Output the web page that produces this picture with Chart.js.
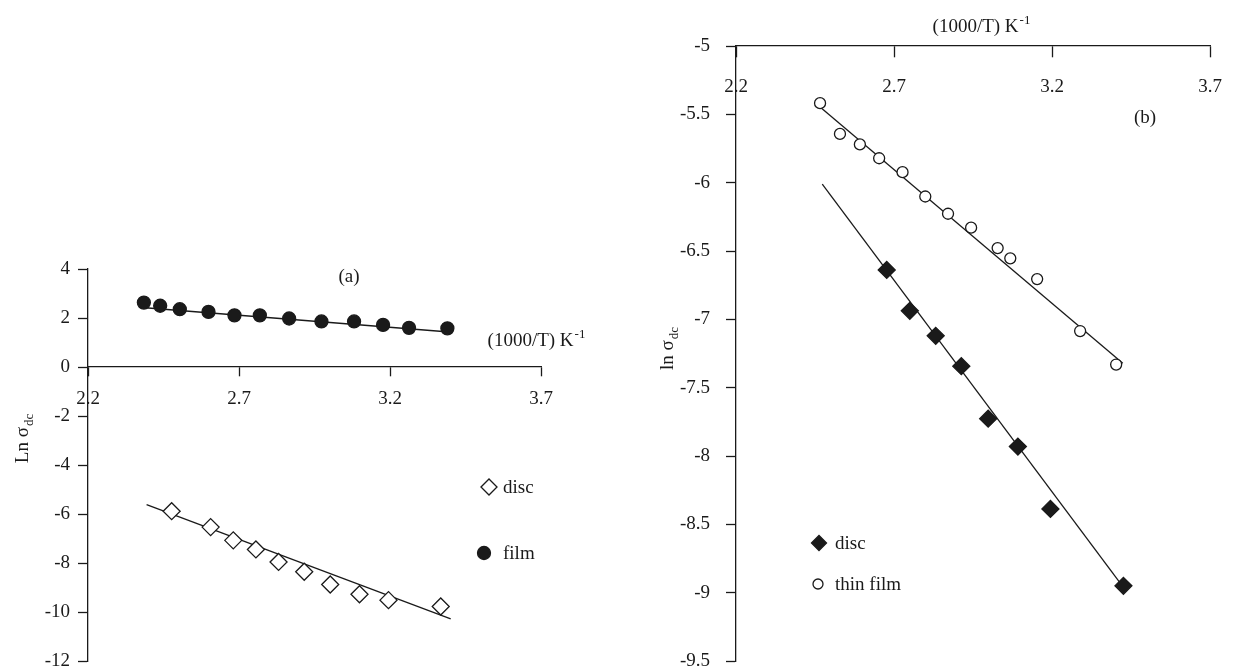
<!DOCTYPE html>
<html>
<head>
<meta charset="utf-8">
<script src="https://cdn.jsdelivr.net/npm/chart.js@4.4.0/dist/chart.umd.min.js"></script>
<style>
  body { margin: 0; background: #fff; }
  #wrap { position: relative; width: 1253px; height: 671px; }
  canvas { position: absolute; top: 0; }
  #chartA { left: 0; }
  #chartB { left: 620px; }
</style>
</head>
<body>
<div id="wrap">
  <canvas id="chartA" width="620" height="671"></canvas>
  <canvas id="chartB" width="633" height="671"></canvas>
</div>
<script>
// shared x ticks (1000/T)
const xTicks = [2.2, 2.7, 3.2, 3.7];

// panel (a)
const aYTicks = [4, 2, 0, -2, -4, -6, -8, -10, -12];
const aFilmX = [2.385, 2.439, 2.504, 2.599, 2.685, 2.769, 2.866, 2.973, 3.081, 3.177, 3.263, 3.390];
const aFilmY = [2.63, 2.50, 2.36, 2.25, 2.11, 2.11, 1.98, 1.86, 1.86, 1.72, 1.60, 1.58];
const aFilmFitX = [2.379, 3.396];
const aFilmFitY = [2.43, 1.43];
const aDiscX = [2.477, 2.606, 2.681, 2.756, 2.831, 2.916, 3.002, 3.099, 3.195, 3.368];
const aDiscY = [-5.88, -6.53, -7.07, -7.44, -7.95, -8.35, -8.87, -9.27, -9.51, -9.77];
const aDiscFitX = [2.394, 3.401];
const aDiscFitY = [-5.61, -10.27];

// panel (b)
const bYTicks = [-5, -5.5, -6, -6.5, -7, -7.5, -8, -8.5, -9, -9.5];
const bFilmX = [2.466, 2.529, 2.592, 2.653, 2.727, 2.799, 2.871, 2.944, 3.028, 3.068, 3.153, 3.289, 3.403];
const bFilmY = [-5.418, -5.643, -5.720, -5.821, -5.923, -6.101, -6.227, -6.329, -6.478, -6.553, -6.705, -7.085, -7.33];
const bFilmFitX = [2.466, 3.424];
const bFilmFitY = [-5.447, -7.32];
const bDiscX = [2.677, 2.750, 2.832, 2.913, 2.998, 3.092, 3.195, 3.426];
const bDiscY = [-6.638, -6.937, -7.12, -7.342, -7.726, -7.930, -8.386, -8.949];
const bDiscFitX = [2.473, 3.426];
const bDiscFitY = [-6.01, -8.96];

const FONT = '"Liberation Serif", "Times New Roman", serif';
const INK = '#1a1a1a';

const pts = (xs, ys) => xs.map((x, i) => ({ x: x, y: ys[i] }));

function markers(label, xs, ys, style, radius, fill) {
    return {
        label: label,
        data: pts(xs, ys),
        showLine: false,
        pointStyle: style,
        pointRadius: radius,
        pointHoverRadius: radius,
        pointBorderWidth: 1.3,
        pointBorderColor: INK,
        pointBackgroundColor: fill
    };
}

function fitLine(xs, ys) {
    return {
        label: 'fit',
        data: pts(xs, ys),
        showLine: true,
        borderColor: INK,
        borderWidth: 1.3,
        pointRadius: 0,
        fill: false
    };
}

// draws a string with an optional sub/superscript part
function richText(ctx, t) {
    ctx.save();
    ctx.translate(t.x, t.y);
    if (t.rotate) ctx.rotate(t.rotate);
    ctx.fillStyle = INK;
    ctx.textBaseline = 'alphabetic';
    ctx.textAlign = 'left';
    const big = t.size + 'px ' + FONT;
    const small = Math.round(t.size * 0.68) + 'px ' + FONT;
    ctx.font = big;
    const w1 = ctx.measureText(t.text).width;
    ctx.font = small;
    const w2 = t.script ? ctx.measureText(t.script).width : 0;
    const x0 = t.align === 'left' ? 0 : -(w1 + w2) / 2;
    ctx.font = big;
    ctx.fillText(t.text, x0, 0);
    if (t.script) {
        ctx.font = small;
        ctx.fillText(t.script, x0 + w1 + 1, t.sup ? -t.size * 0.42 : t.size * 0.28);
    }
    ctx.restore();
}

const annotations = {
    id: 'annotations',
    afterDraw(chart, args, opts) {
        const ctx = chart.ctx;
        (opts.texts || []).forEach(t => richText(ctx, t));
        (opts.legend || []).forEach(item => {
            const ds = chart.data.datasets[item.dataset];
            ctx.save();
            ctx.fillStyle = ds.pointBackgroundColor;
            ctx.strokeStyle = ds.pointBorderColor;
            ctx.lineWidth = ds.pointBorderWidth;
            Chart.helpers.drawPoint(ctx, {
                pointStyle: ds.pointStyle,
                radius: item.radius || ds.pointRadius,
                borderWidth: ds.pointBorderWidth,
                rotation: 0
            }, item.mx, item.my);
            ctx.restore();
            richText(ctx, { text: ds.label, x: item.tx, y: item.my + 6, size: 19, align: 'left' });
        });
    }
};

function makeOptions(cfg) {
    return {
        responsive: false,
        animation: false,
        layout: { padding: cfg.padding },
        plugins: {
            legend: { display: false },
            tooltip: { enabled: false },
            annotations: { texts: cfg.texts, legend: cfg.legend }
        },
        scales: {
            x: {
                type: 'linear',
                min: xTicks[0],
                max: xTicks[xTicks.length - 1],
                position: { y: cfg.xAxisAt },
                afterBuildTicks: s => { s.ticks = xTicks.map(v => ({ value: v })); },
                afterFit: s => { s.height = 0; s.paddingLeft = 0; s.paddingRight = 0; },
                grid: { drawOnChartArea: false, drawTicks: true, tickLength: cfg.xTickLen, tickColor: INK, tickWidth: 1.3 },
                border: { color: INK, width: 1.3 },
                ticks: {
                    color: INK, padding: cfg.xTickPad, maxRotation: 0, autoSkip: false,
                    font: { family: FONT, size: 19 },
                    callback: v => String(v)
                }
            },
            y: {
                type: 'linear',
                position: 'left',
                min: cfg.yTicks[cfg.yTicks.length - 1],
                max: cfg.yTicks[0],
                afterBuildTicks: s => { s.ticks = cfg.yTicks.slice().reverse().map(v => ({ value: v })); },
                afterFit: s => { s.width = cfg.yWidth; s.paddingTop = 0; s.paddingBottom = 0; },
                grid: { drawOnChartArea: false, drawTicks: true, tickLength: 10, tickColor: INK, tickWidth: 1.3 },
                border: { color: INK, width: 1.3 },
                ticks: {
                    color: INK, padding: cfg.yTickPad, autoSkip: false,
                    font: { family: FONT, size: 19 },
                    callback: v => String(v)
                }
            }
        }
    };
}

new Chart(document.getElementById('chartA').getContext('2d'), {
    type: 'scatter',
    data: {
        datasets: [
            markers('disc', aDiscX, aDiscY, 'rectRot', 8.5, '#ffffff'),
            markers('film', aFilmX, aFilmY, 'circle', 6.5, INK),
            fitLine(aDiscFitX, aDiscFitY),
            fitLine(aFilmFitX, aFilmFitY)
        ]
    },
    options: makeOptions({
        padding: { left: 0, top: 269, right: 79, bottom: 2 },
        xAxisAt: 0,
        xTickLen: 9,
        xTickPad: 12,
        yTicks: aYTicks,
        yWidth: 88,
        yTickPad: 8,
        texts: [
            { text: '(a)', x: 349, y: 282, size: 19 },
            { text: '(1000/T) K', script: '-1', sup: true, x: 536, y: 346, size: 19 },
            { text: 'Ln σ', script: 'dc', x: 28, y: 439, size: 19, rotate: -Math.PI / 2 }
        ],
        legend: [
            { dataset: 0, mx: 489, my: 487, tx: 503, radius: 8 },
            { dataset: 1, mx: 484, my: 553, tx: 503 }
        ]
    }),
    plugins: [annotations]
});

new Chart(document.getElementById('chartB').getContext('2d'), {
    type: 'scatter',
    data: {
        datasets: [
            markers('disc', bDiscX, bDiscY, 'rectRot', 8.5, INK),
            markers('thin film', bFilmX, bFilmY, 'circle', 5.5, '#ffffff'),
            fitLine(bDiscFitX, bDiscFitY),
            fitLine(bFilmFitX, bFilmFitY)
        ]
    },
    options: makeOptions({
        padding: { left: 0, top: 46, right: 43, bottom: 8 },
        xAxisAt: -5,
        xTickLen: 11,
        xTickPad: 19,
        yTicks: bYTicks,
        yWidth: 116,
        yTickPad: 16,
        texts: [
            { text: '(b)', x: 525, y: 123, size: 19 },
            { text: '(1000/T) K', script: '-1', sup: true, x: 361, y: 32, size: 19 },
            { text: 'ln σ', script: 'dc', x: 53, y: 349, size: 19, rotate: -Math.PI / 2 }
        ],
        legend: [
            { dataset: 0, mx: 199, my: 543, tx: 215, radius: 7.5 },
            { dataset: 1, mx: 198, my: 584, tx: 215, radius: 5 }
        ]
    }),
    plugins: [annotations]
});
</script>
</body>
</html>
